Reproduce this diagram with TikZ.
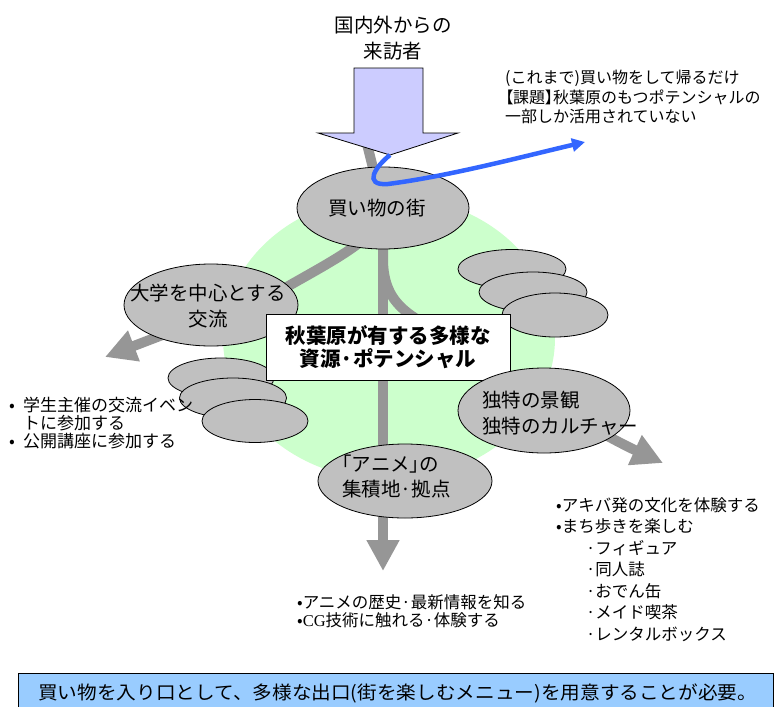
\documentclass[tikz,border=0pt]{standalone}
\usepackage{fontspec}
\usepackage{graphicx}
\setmainfont{Noto Sans CJK JP}
\newfontfamily\pfont[RawFeature=+palt]{Noto Sans CJK JP}
\newfontfamily\tnr{Liberation Serif}
\usetikzlibrary{arrows.meta,shapes.geometric}
\definecolor{ggrey}{HTML}{C0C0C0}
\definecolor{lgreen}{HTML}{CCFFCC}
\definecolor{lineg}{HTML}{969696}
\definecolor{lav}{HTML}{CCCCFF}
\definecolor{bblue}{HTML}{3366FF}
\definecolor{lblue}{HTML}{99CCFF}
\pgfdeclarelayer{bg}
\pgfsetlayers{bg,main}
\begin{document}
\begin{tikzpicture}[x=1pt,y=-1pt,
  blob/.style 2 args={ellipse, draw=black, fill=ggrey, line width=0.8pt, inner sep=0pt, minimum width=#1, minimum height=#2},
  gline/.style={draw=lineg, line width=10pt},
  garrow/.style={gline, -{Triangle[length=31pt,width=31pt]}},
  lab/.style={inner sep=0pt, font=\fontsize{19.5}{26.5}\selectfont, align=center},
  small/.style={inner sep=0pt, anchor=west, align=left}]
\useasboundingbox (0,0) rectangle (774,707);

% coordinates
\coordinate (stubtop) at (366,140);
\coordinate (ltip) at (105,357);
\coordinate (dtip) at (383,571);
\coordinate (rtip) at (663,463);
\coordinate (bigtip) at (390,155);
\coordinate (blueend) at (585,142);

% big arrow
\draw[fill=lav, line width=0.8pt] (354,68) -- (423,68) -- (423,133) -- (458,133) -- (bigtip) -- (318,133) -- (354,133) -- cycle;

% ellipses
\node[blob={172pt}{82pt}] (shop) at (383,208) {};
\node[blob={174pt}{82pt}] (uni) at (211,305) {};
\node[blob={106pt}{40pt}] (l1) at (221,378) {};
\node[blob={107pt}{40pt}] (l2) at (233,398) {};
\node[blob={106pt}{43pt}] (l3) at (255,421) {};
\node[blob={108pt}{39pt}] (r1) at (512,269) {};
\node[blob={108pt}{40pt}] (r2) at (533,292) {};
\node[blob={106pt}{44pt}] (r3) at (555,315) {};
\node[draw=black, fill=white, line width=0.8pt, minimum width=244pt, minimum height=66pt, inner sep=0pt,
      font=\bfseries\fontsize{20.5}{23}\selectfont, align=center] (res) at (388,347) {秋葉原が有する多様な\\資源·ポテンシャル};
\node[blob={172pt}{85pt}] (cult) at (544,410.5) {};
\node[blob={174pt}{74pt}] (anime) at (405,481) {};

% background: pool and grey connectors
\begin{pgfonlayer}{bg}
\node[ellipse, fill=lgreen, inner sep=0pt, minimum width=332pt, minimum height=284pt] (pool) at (389,338) {};
\draw[gline] (stubtop) -- (shop.center);
\draw[garrow] (shop.center) .. controls (385,235) and (330,262) .. (285,288) -- (ltip);
\draw[garrow] (shop.center) -- (dtip);
\draw[garrow] (shop.center) -- (383,262) .. controls (384,290) and (395,305) .. (415,318)
   .. controls (490,370) and (600,434) .. (rtip);
\end{pgfonlayer}

% labels
\node[lab] (visitors) at (393,38) {国内外からの\\来訪者};
\node[lab] (shoptxt) at (377,208) {買い物の街};
\node[lab] (unitxt) at (208,306) {大学を中心とする\\交流};
\node[lab, align=left, anchor=west] (culttxt) at (482,413) {独特の景観\\独特のカルチャー};
\node[lab, align=left, anchor=west, font=\fontsize{19.5}{25}\selectfont] (animetxt) at (342,477) {{\pfont「}アニメ{\pfont」}の\\集積地·拠点};

% blue path
\draw[bblue, line width=4.5pt, -{Triangle[length=13pt,width=13pt]}] (bigtip) .. controls (376,166) and (362,186) .. (388,184)
   .. controls (450,176) and (525,156) .. (blueend);

% text lists
\node[small, font=\fontsize{16}{19.5}\selectfont] (note) at (505,97) {(これまで)買い物をして帰るだけ\\{\pfont【}課題{\pfont】}秋葉原のもつポテンシャルの\\一部しか活用されていない};
\node[small, font=\fontsize{17}{18}\selectfont] (leftlist) at (9,423) {\makebox[14pt][l]{•}学生主催の交流イベン\\\hspace*{14pt}トに参加する\\\makebox[14pt][l]{•}公開講座に参加する};
\node[small, font=\fontsize{16.5}{18.5}\selectfont] (anilist) at (297,611) {•アニメの歴史·最新情報を知る\\•{\tnr CG}技術に触れる·体験する};
\node[small, font=\fontsize{16.5}{21.5}\selectfont] (cultlist) at (556,569.5) {•アキバ発の文化を体験する\\•まち歩きを楽しむ\\\hspace*{30pt}·フィギュア\\\hspace*{30pt}·同人誌\\\hspace*{30pt}·おでん缶\\\hspace*{30pt}·メイド喫茶\\\hspace*{30pt}·レンタルボックス};

% conclusion box
\node[draw=black, fill=lblue, line width=0.8pt, anchor=north west, minimum width=754.5pt, minimum height=50pt, inner sep=0pt] (concl) at (18,673) {};
\node[small, font=\fontsize{18.5}{20}\selectfont] (concltxt) at (38,693) {\resizebox{719pt}{\height}{買い物を入り口として、多様な出口(街を楽しむメニュー)を用意することが必要。}};
\end{tikzpicture}
\end{document}
